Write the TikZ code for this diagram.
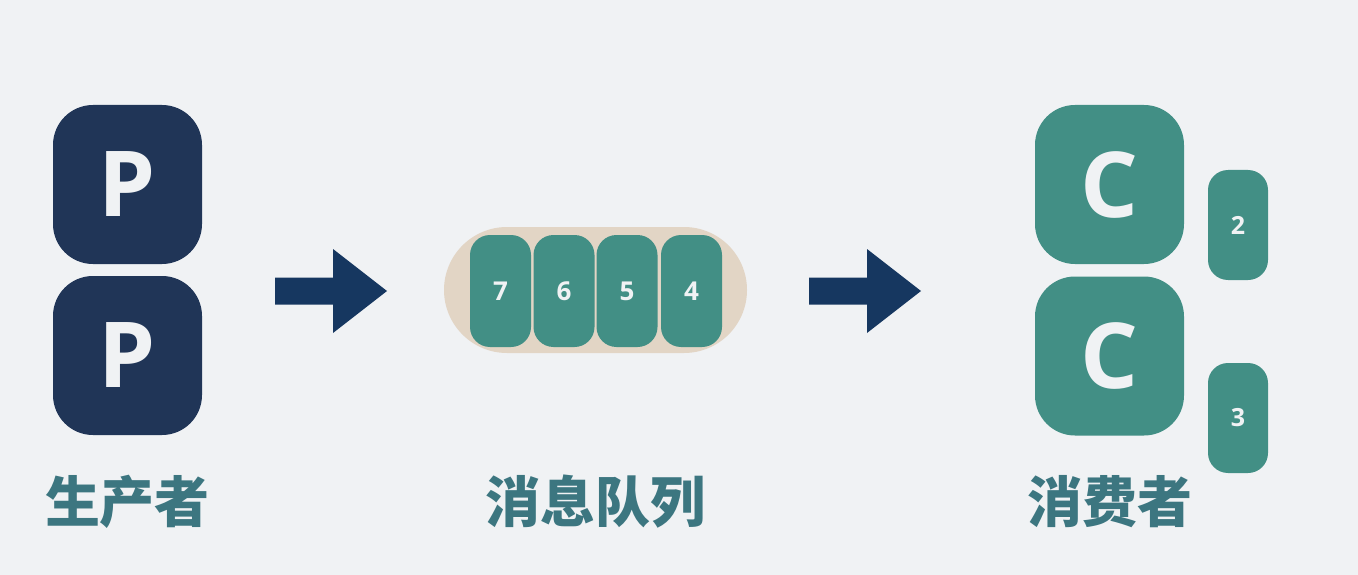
\documentclass[tikz,border=0pt]{standalone}
\usepackage{fontspec}
\setmainfont{Open Sans}
\newfontfamily\cjk{Noto Sans CJK SC}
\begin{document}
\begin{tikzpicture}[x=1pt,y=-1pt,
  bigbox/.style={rounded corners=40pt, minimum width=149pt, minimum height=159pt, inner sep=0pt, font=\fontsize{91}{91}\selectfont\bfseries, text=letter},
  prod/.style={bigbox, fill=navy},
  cons/.style={bigbox, fill=teal},
  cell/.style={rounded corners=20pt, fill=teal, minimum width=61pt, minimum height=112pt, inner sep=0pt, font=\fontsize{26}{26}\selectfont\bfseries, text=letter},
  smallcell/.style={cell, minimum width=60pt, minimum height=110pt, font=\fontsize{25}{25}\selectfont\bfseries},
  label/.style={inner sep=0pt, font=\cjk\bfseries\fontsize{55}{55}\selectfont, text=labelc},
  blockarrow/.style={fill=arrowc}
]
\definecolor{bg}{HTML}{F0F2F4}
\definecolor{navy}{HTML}{203557}
\definecolor{arrowc}{HTML}{163760}
\definecolor{teal}{HTML}{428F85}
\definecolor{beige}{HTML}{E2D5C5}
\definecolor{labelc}{HTML}{3C7680}
\definecolor{letter}{HTML}{F0F2F4}
\fill[bg] (0,0) rectangle (1358,575);
\useasboundingbox (0,0) rectangle (1358,575);

% producers
\node[prod] (p1) at (127.5,184.5) {P};
\node[prod] (p2) at (127.5,355.5) {P};
\node[label] (lp) at (127.5,502) {生产者};

% arrow 1
\coordinate (a1) at (275,291);
\fill[blockarrow] (a1) ++(0,-13.5) -- ++(58,0) -- ++(0,-28.5) -- (387,291) -- (333,333) -- (333,304.5) -- (275,304.5) -- cycle;

% queue
\node[rounded corners=63pt, fill=beige, minimum width=303pt, minimum height=126pt, inner sep=0pt] (q) at (595.5,290) {};
\node[cell] (c7) at (500.5,291) {7};
\node[cell] (c6) at (564,291) {6};
\node[cell] (c5) at (627,291) {5};
\node[cell] (c4) at (691.5,291) {4};
\node[label] (lq) at (595,502) {消息队列};

% arrow 2
\coordinate (a2) at (809,291);
\fill[blockarrow] (a2) ++(0,-13.5) -- ++(58,0) -- ++(0,-28.5) -- (921,291) -- (867,333) -- (867,304.5) -- (809,304.5) -- cycle;

% consumers
\node[cons] (k1) at (1109.5,184.5) {C};
\node[cons] (k2) at (1109.5,356) {C};
\node[smallcell] (s2) at (1238,225) {2};
\node[smallcell] (s3) at (1238,418) {3};
\node[label] (lc) at (1109.5,502) {消费者};
\end{tikzpicture}
\end{document}
